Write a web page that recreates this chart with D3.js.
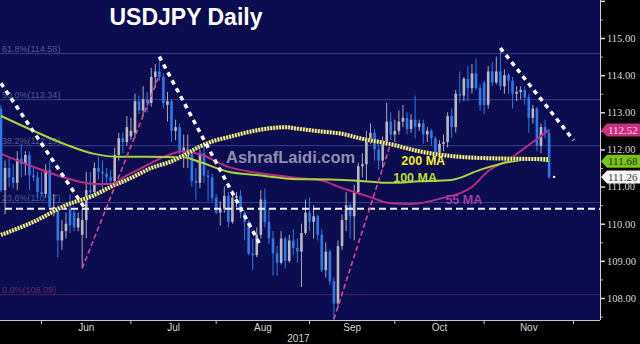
<!DOCTYPE html>
<html>
<head>
<meta charset="utf-8">
<script src="https://cdn.jsdelivr.net/npm/d3@7"></script>
<style>
html, body { margin: 0; padding: 0; background: #000; }
svg { display: block; }
</style>
</head>
<body>
<script>
// daily candles: [day, open, high, low, close]
var candles = [
	["2017-05-17", 113.10, 113.20, 110.85, 110.90],
	["2017-05-18", 110.90, 111.70, 110.25, 111.50],
	["2017-05-19", 111.50, 111.80, 111.00, 111.25],
	["2017-05-22", 111.25, 111.60, 110.95, 111.10],
	["2017-05-23", 111.10, 111.95, 110.90, 111.75],
	["2017-05-24", 111.75, 112.15, 111.25, 111.60],
	["2017-05-25", 111.60, 111.95, 111.30, 111.85],
	["2017-05-26", 111.85, 111.95, 110.90, 111.30],
	["2017-05-29", 111.30, 111.55, 111.15, 111.25],
	["2017-05-30", 111.25, 111.40, 110.70, 110.85],
	["2017-05-31", 110.85, 111.40, 110.75, 110.80],
	["2017-06-01", 110.80, 111.60, 110.70, 111.45],
	["2017-06-02", 111.45, 111.70, 110.40, 110.45],
	["2017-06-05", 110.45, 110.80, 110.20, 110.45],
	["2017-06-06", 110.45, 110.50, 109.10, 109.55],
	["2017-06-07", 109.55, 110.10, 109.30, 109.80],
	["2017-06-08", 109.80, 110.30, 109.60, 110.00],
	["2017-06-09", 110.40, 110.80, 109.75, 109.95],
	["2017-06-12", 110.30, 110.40, 109.80, 109.90],
	["2017-06-13", 109.90, 110.30, 109.80, 110.15],
	["2017-06-14", 109.70, 110.40, 108.80, 110.10],
	["2017-06-15", 110.10, 111.40, 109.60, 110.90],
	["2017-06-16", 110.90, 111.40, 110.65, 110.85],
	["2017-06-19", 110.85, 111.65, 110.70, 111.50],
	["2017-06-20", 111.50, 111.80, 111.20, 111.40],
	["2017-06-21", 111.40, 111.70, 110.95, 111.35],
	["2017-06-22", 111.35, 111.50, 111.05, 111.25],
	["2017-06-23", 111.25, 111.45, 110.95, 111.15],
	["2017-06-26", 111.15, 112.05, 111.10, 111.85],
	["2017-06-27", 111.85, 112.45, 111.70, 112.30],
	["2017-06-28", 112.30, 112.45, 111.90, 112.20],
	["2017-06-29", 112.20, 112.90, 112.10, 112.60],
	["2017-06-30", 112.35, 112.85, 112.25, 112.50],
	["2017-07-03", 112.45, 113.50, 112.30, 113.30],
	["2017-07-04", 113.30, 113.45, 112.95, 113.05],
	["2017-07-05", 113.05, 113.70, 112.90, 113.35],
	["2017-07-06", 113.35, 113.55, 113.00, 113.25],
	["2017-07-07", 113.25, 114.20, 113.15, 113.95],
	["2017-07-10", 113.95, 114.30, 113.65, 114.10],
	["2017-07-11", 114.10, 114.50, 113.85, 113.95],
	["2017-07-12", 113.95, 114.05, 113.10, 113.25],
	["2017-07-13", 113.20, 113.55, 112.75, 113.30],
	["2017-07-14", 113.30, 113.35, 112.20, 112.50],
	["2017-07-17", 112.50, 112.80, 112.25, 112.60],
	["2017-07-18", 112.60, 112.70, 111.70, 111.95],
	["2017-07-19", 111.95, 112.40, 111.50, 112.05],
	["2017-07-20", 111.80, 112.40, 111.50, 112.00],
	["2017-07-21", 111.90, 112.00, 111.00, 111.15],
	["2017-07-24", 111.15, 111.50, 110.65, 111.10],
	["2017-07-25", 111.10, 112.00, 110.95, 111.90],
	["2017-07-26", 111.90, 112.20, 111.10, 111.30],
	["2017-07-27", 111.30, 111.45, 110.60, 111.25],
	["2017-07-28", 111.25, 111.35, 110.60, 110.70],
	["2017-07-31", 110.70, 110.80, 110.25, 110.30],
	["2017-08-01", 110.30, 110.60, 109.95, 110.40],
	["2017-08-02", 110.40, 111.00, 110.30, 110.75],
	["2017-08-03", 110.75, 110.85, 109.90, 110.05],
	["2017-08-04", 110.05, 110.90, 110.00, 110.70],
	["2017-08-07", 110.70, 110.85, 110.45, 110.75],
	["2017-08-08", 110.75, 110.90, 110.15, 110.30],
	["2017-08-09", 110.30, 110.35, 109.55, 110.05],
	["2017-08-10", 110.05, 110.10, 109.15, 109.20],
	["2017-08-11", 109.20, 109.60, 108.75, 109.15],
	["2017-08-14", 109.15, 109.90, 109.10, 109.70],
	["2017-08-15", 109.70, 110.90, 109.60, 110.65],
	["2017-08-16", 110.65, 110.95, 109.90, 110.05],
	["2017-08-17", 110.05, 110.40, 109.45, 109.60],
	["2017-08-18", 109.60, 109.80, 108.60, 109.20],
	["2017-08-21", 109.20, 109.40, 108.60, 108.95],
	["2017-08-22", 108.95, 109.80, 108.90, 109.60],
	["2017-08-23", 109.60, 109.65, 108.80, 109.00],
	["2017-08-24", 109.00, 109.70, 108.95, 109.55],
	["2017-08-25", 109.55, 109.85, 109.15, 109.35],
	["2017-08-28", 109.35, 109.60, 108.95, 109.25],
	["2017-08-29", 109.25, 110.00, 108.30, 109.75],
	["2017-08-30", 109.75, 110.65, 109.70, 110.30],
	["2017-08-31", 110.30, 110.70, 109.80, 110.05],
	["2017-09-01", 110.05, 110.50, 109.60, 110.20],
	["2017-09-04", 110.20, 110.25, 109.55, 109.70],
	["2017-09-05", 109.70, 109.85, 108.70, 108.75],
	["2017-09-06", 108.75, 109.50, 108.55, 109.25],
	["2017-09-07", 109.25, 109.30, 108.35, 108.45],
	["2017-09-08", 108.45, 108.55, 107.32, 107.85],
	["2017-09-11", 107.85, 109.55, 107.75, 109.40],
	["2017-09-12", 109.40, 110.25, 109.30, 110.10],
	["2017-09-13", 110.10, 110.85, 109.80, 110.50],
	["2017-09-14", 110.50, 110.55, 109.60, 110.20],
	["2017-09-15", 110.20, 111.05, 109.55, 110.85],
	["2017-09-18", 110.85, 111.65, 110.80, 111.55],
	["2017-09-19", 111.55, 111.90, 111.25, 111.60],
	["2017-09-20", 111.60, 112.50, 111.15, 112.25],
	["2017-09-21", 112.25, 112.70, 112.15, 112.45],
	["2017-09-22", 112.45, 112.55, 111.70, 112.00],
	["2017-09-25", 112.00, 112.15, 111.45, 111.70],
	["2017-09-26", 111.70, 112.35, 111.50, 112.20],
	["2017-09-27", 112.20, 113.25, 112.10, 112.75],
	["2017-09-28", 112.75, 113.00, 112.25, 112.40],
	["2017-09-29", 112.40, 112.80, 112.20, 112.50],
	["2017-10-02", 112.50, 113.05, 112.40, 112.75],
	["2017-10-03", 112.75, 113.20, 112.60, 112.85],
	["2017-10-04", 112.85, 113.00, 112.40, 112.55],
	["2017-10-05", 112.55, 112.95, 112.45, 112.80],
	["2017-10-06", 112.80, 113.45, 112.30, 112.60],
	["2017-10-09", 112.60, 112.80, 112.50, 112.70],
	["2017-10-10", 112.70, 112.80, 112.15, 112.40],
	["2017-10-11", 112.40, 112.60, 112.20, 112.50],
	["2017-10-12", 112.50, 112.55, 112.10, 112.30],
	["2017-10-13", 112.30, 112.35, 111.65, 111.80],
	["2017-10-16", 111.80, 112.25, 111.70, 112.15],
	["2017-10-17", 112.15, 112.40, 111.95, 112.20],
	["2017-10-18", 112.20, 113.00, 112.05, 112.90],
	["2017-10-19", 112.90, 113.10, 112.30, 112.60],
	["2017-10-20", 112.60, 113.60, 112.45, 113.50],
	["2017-10-23", 113.50, 114.10, 113.25, 113.45],
	["2017-10-24", 113.45, 113.95, 113.30, 113.90],
	["2017-10-25", 113.90, 114.25, 113.30, 113.65],
	["2017-10-26", 113.65, 114.30, 113.50, 114.05],
	["2017-10-27", 114.05, 114.45, 113.60, 113.65],
	["2017-10-30", 113.65, 113.75, 113.05, 113.20],
	["2017-10-31", 113.80, 113.85, 112.95, 113.20],
	["2017-11-01", 113.20, 114.25, 113.10, 114.10],
	["2017-11-02", 114.10, 114.35, 113.70, 113.80],
	["2017-11-03", 113.80, 114.50, 113.75, 114.10],
	["2017-11-06", 114.10, 114.73, 113.60, 113.70],
	["2017-11-07", 113.70, 114.15, 113.50, 114.00],
	["2017-11-08", 114.00, 114.05, 113.50, 113.85],
	["2017-11-09", 113.85, 113.95, 113.10, 113.50],
	["2017-11-10", 113.50, 113.70, 113.30, 113.55],
	["2017-11-13", 113.55, 113.70, 113.35, 113.60],
	["2017-11-14", 113.60, 113.70, 113.20, 113.40],
	["2017-11-15", 113.40, 113.50, 112.45, 112.85],
	["2017-11-16", 112.85, 113.20, 112.70, 113.10],
	["2017-11-17", 113.10, 113.15, 111.95, 112.10],
	["2017-11-20", 112.10, 112.70, 111.90, 112.60],
	["2017-11-21", 112.60, 112.80, 112.30, 112.45],
	["2017-11-22", 112.45, 112.55, 111.20, 111.26]
];

// empty trading days kept on the right of the axis
var padDays = ["2017-11-23", "2017-11-24", "2017-11-27", "2017-11-28", "2017-11-29", "2017-11-30",
	"2017-12-01", "2017-12-04", "2017-12-05", "2017-12-06", "2017-12-07", "2017-12-08"];

// moving averages: [day, value]
var ma200 = [
	["2017-05-17", 109.70], ["2017-05-29", 110.05], ["2017-06-08", 110.50], ["2017-06-19", 110.77],
	["2017-06-23", 110.99], ["2017-06-30", 111.23], ["2017-07-07", 111.50], ["2017-07-14", 111.68],
	["2017-07-19", 111.84], ["2017-07-25", 112.08], ["2017-07-31", 112.25], ["2017-08-03", 112.33],
	["2017-08-10", 112.47], ["2017-08-18", 112.58], ["2017-08-23", 112.60], ["2017-08-28", 112.56],
	["2017-09-05", 112.48], ["2017-09-12", 112.42], ["2017-09-18", 112.31], ["2017-09-28", 112.14],
	["2017-10-09", 111.95], ["2017-10-19", 111.82], ["2017-10-30", 111.77], ["2017-11-22", 111.74]
];
var ma100 = [
	["2017-05-17", 112.90], ["2017-05-29", 112.50], ["2017-06-08", 112.13], ["2017-06-19", 111.88],
	["2017-06-27", 111.80], ["2017-07-06", 111.80], ["2017-07-19", 111.79], ["2017-07-25", 111.66],
	["2017-08-03", 111.40], ["2017-08-14", 111.31], ["2017-08-28", 111.20], ["2017-09-07", 111.19],
	["2017-09-18", 111.16], ["2017-09-28", 111.10], ["2017-10-09", 111.14], ["2017-10-19", 111.18],
	["2017-10-30", 111.45], ["2017-11-08", 111.66], ["2017-11-15", 111.73], ["2017-11-22", 111.68]
];
var ma55 = [
	["2017-05-17", 111.88], ["2017-05-29", 111.53], ["2017-06-08", 111.23], ["2017-06-19", 111.07],
	["2017-06-23", 111.07], ["2017-06-29", 111.30], ["2017-07-06", 111.58], ["2017-07-13", 111.84],
	["2017-07-19", 111.95], ["2017-07-25", 111.87], ["2017-08-03", 111.53], ["2017-08-14", 111.37],
	["2017-08-18", 111.31], ["2017-08-28", 111.23], ["2017-09-05", 111.16], ["2017-09-12", 110.96],
	["2017-09-20", 110.75], ["2017-09-28", 110.55], ["2017-10-05", 110.53], ["2017-10-16", 110.67],
	["2017-10-26", 110.99], ["2017-11-01", 111.42], ["2017-11-08", 111.72], ["2017-11-15", 112.12],
	["2017-11-22", 112.52]
];

var fibLevels = [["61.8%", 114.58], ["50.0%", 113.34], ["38.2%", 112.10], ["23.6%", 110.57], ["0.0%", 108.09]];
var supportLevel = 110.40;

// white dotted trend lines and pink dashed trend lines: [[day, price], [day, price]]
var dottedLines = [
	[["2017-05-17", 113.78], ["2017-06-15", 110.36]],
	[["2017-07-11", 114.50], ["2017-08-15", 109.40]],
	[["2017-11-06", 114.73], ["2017-11-30", 112.25]]
];
var pinkLines = [
	[["2017-06-14", 108.80], ["2017-07-11", 114.00]],
	[["2017-09-08", 107.43], ["2017-09-28", 112.17]]
];

var maLabels = [
	["200 MA", "2017-10-10", 111.58, "#f2ee22"],
	["100 MA", "2017-10-06", 111.13, "#bcdc34"],
	["55 MA", "2017-10-24", 110.54, "#9a3eaa"]
];

// price tags on the right axis: [value, fill, text colour]
var priceTags = [
	[112.52, "#c8307f", "#f6d6ea"],
	[111.68, "#7cc21e", "#17360a"],
	[111.26, "#f4f4f4", "#3a3a3a"]
];

var monthStarts = ["2017-06-01", "2017-07-03", "2017-08-01", "2017-09-01", "2017-10-02", "2017-11-01", "2017-12-01"];
var monthLabels = ["Jun", "Jul", "Aug", "Sep", "Oct", "Nov"];
var yearLabel = "2017";
var yTicks = [108, 109, 110, 111, 112, 113, 114, 115, 116];
var yMinorTicks = [107.5, 108.5, 109.5, 110.5, 111.5, 112.5, 113.5, 114.5, 115.5];

var width = 640, height = 344;
var plotW = 600, plotH = 320;

var svg = d3.select("body").append("svg")
	.attr("width", width)
	.attr("height", height)
	.style("background", "#000")

var allDays = candles.map(d => d[0]).concat(padDays);

var x = d3.scaleBand()
	.domain(allDays)
	.range([-1.03, 599.85])
var step = x.step();
var cx = d => x(d) + x.bandwidth()/2;

var y = d3.scaleLinear()
	.domain([108, 115])
	.range([298, 38])

svg.append("defs").append("clipPath")
	.attr("id", "plotClip")
	.append("rect")
	.attr("width", plotW)
	.attr("height", plotH)

svg.append("rect")
	.attr("width", plotW)
	.attr("height", plotH)
	.attr("fill", "#0c0c50")

var plot = svg.append("g")
	.attr("clip-path", "url(#plotClip)")

// fibonacci levels
var fib = plot.append("g").attr("class", "fib")
fib.selectAll("line")
	.data(fibLevels)
	.join("line")
		.attr("x1", 0)
		.attr("x2", plotW)
		.attr("y1", d => y(d[1]))
		.attr("y2", d => y(d[1]))
		.attr("stroke", d => d[0] == "0.0%" ? "#4a1f62" : "#343f86")
		.attr("stroke-width", 1)
fib.selectAll("text")
	.data(fibLevels)
	.join("text")
		.attr("x", 2)
		.attr("y", d => y(d[1]) - 2)
		.attr("font-family", "Liberation Sans, Arial, sans-serif")
		.attr("font-size", 9)
		.attr("fill", d => d[0] == "0.0%" ? "#5e2c62" : "#4c5a98")
		.text(d => d[0] + "(" + d[1].toFixed(2) + ")")

// candles
var candleG = plot.append("g").attr("class", "candles")
var up = d => d[4] >= d[1];
var bodyW = 2.6;

candleG.selectAll("line")
	.data(candles)
	.join("line")
		.attr("x1", d => cx(d[0]))
		.attr("x2", d => cx(d[0]))
		.attr("y1", d => y(d[2]))
		.attr("y2", d => y(d[3]))
		.attr("stroke", d => up(d) ? "#a9a9b4" : "#2c7be5")
		.attr("stroke-width", 1)

candleG.selectAll("rect")
	.data(candles)
	.join("rect")
		.attr("x", d => cx(d[0]) - bodyW/2)
		.attr("width", bodyW)
		.attr("y", d => y(Math.max(d[1], d[4])))
		.attr("height", d => Math.max(1, Math.abs(y(d[1]) - y(d[4]))))
		.attr("fill", d => up(d) ? "#b8b8c2" : "#2c7be5")

// support line
plot.append("line")
	.attr("x1", 5)
	.attr("x2", plotW)
	.attr("y1", y(supportLevel))
	.attr("y2", y(supportLevel))
	.attr("stroke", "#f2f2f2")
	.attr("stroke-width", 2)
	.attr("stroke-dasharray", "7,4")

// moving averages
var maLine = d3.line()
	.x(d => cx(d[0]))
	.y(d => y(d[1]))
	.curve(d3.curveMonotoneX)

plot.append("path")
	.datum(ma55)
	.attr("d", maLine)
	.attr("fill", "none")
	.attr("stroke", "#b82c86")
	.attr("stroke-width", 2)

plot.append("path")
	.datum(ma100)
	.attr("d", maLine)
	.attr("fill", "none")
	.attr("stroke", "#a6d63a")
	.attr("stroke-width", 2)

plot.append("path")
	.datum(ma200)
	.attr("d", maLine)
	.attr("fill", "none")
	.attr("stroke", "#55553a")
	.attr("stroke-width", 4)

plot.append("path")
	.datum(ma200)
	.attr("d", maLine)
	.attr("fill", "none")
	.attr("stroke", "#f8f4a6")
	.attr("stroke-width", 4)
	.attr("stroke-dasharray", "1.6,1.4")

// trend lines
var trendLine = d3.line()
	.x(d => cx(d[0]))
	.y(d => y(d[1]))

plot.selectAll("path.pink")
	.data(pinkLines)
	.join("path")
		.attr("class", "pink")
		.attr("d", trendLine)
		.attr("fill", "none")
		.attr("stroke", "#d84a8e")
		.attr("stroke-width", 1.6)
		.attr("stroke-dasharray", "5,3")

plot.selectAll("path.dotted")
	.data(dottedLines)
	.join("path")
		.attr("class", "dotted")
		.attr("d", trendLine)
		.attr("fill", "none")
		.attr("stroke", "#ffffff")
		.attr("stroke-width", 3.5)
		.attr("stroke-dasharray", "4.5,4.5")

// last price marker
var last = candles[candles.length - 1];
plot.append("circle")
	.attr("cx", cx(last[0]) + 5)
	.attr("cy", y(last[4]))
	.attr("r", 1.2)
	.attr("fill", "#fff")

// watermark
svg.append("text")
	.attr("x", 226)
	.attr("y", 163)
	.attr("font-family", "Liberation Sans, Arial, sans-serif")
	.attr("font-weight", "bold")
	.attr("font-size", 16.5)
	.attr("fill", "#b4b4c8")
	.attr("fill-opacity", 0.8)
	.text("AshrafLaidi.com")

// moving average labels
svg.selectAll("text.malabel")
	.data(maLabels)
	.join("text")
		.attr("class", "malabel")
		.attr("x", d => cx(d[1]))
		.attr("y", d => y(d[2]))
		.attr("text-anchor", "middle")
		.attr("font-family", "Liberation Sans, Arial, sans-serif")
		.attr("font-weight", "bold")
		.attr("font-size", 12.5)
		.attr("fill", d => d[3])
		.text(d => d[0])

// title
svg.append("text")
	.attr("x", 186)
	.attr("y", 25)
	.attr("text-anchor", "middle")
	.attr("font-family", "Liberation Sans, Arial, sans-serif")
	.attr("font-weight", "bold")
	.attr("font-size", 23)
	.attr("fill", "#ffffff")
	.text("USDJPY Daily")

// right axis
var yAxis = svg.append("g")
	.attr("transform", "translate(" + plotW + ",0)")
	.call(d3.axisRight(y)
		.tickValues(yTicks)
		.tickSize(5)
		.tickPadding(2)
		.tickFormat(d => d < 116 ? d3.format(".2f")(d) : ""))
yAxis.select(".domain").remove();
yAxis.selectAll("line").attr("stroke", "#d8d8d8").attr("stroke-width", 1.5);
yAxis.selectAll("text")
	.attr("fill", "#d8d8d8")
	.attr("font-family", "Liberation Serif, Times New Roman, serif")
	.attr("font-size", 10.5)

var yMinor = svg.append("g")
	.attr("transform", "translate(" + plotW + ",0)")
	.call(d3.axisRight(y).tickValues(yMinorTicks).tickSize(3).tickFormat(""))
yMinor.select(".domain").remove();
yMinor.selectAll("line").attr("stroke", "#b0b0b0");

svg.append("line")
	.attr("x1", plotW + 0.5)
	.attr("x2", plotW + 0.5)
	.attr("y1", 0)
	.attr("y2", plotH)
	.attr("stroke", "#d0d0d0")
	.attr("stroke-width", 1)

// bottom axis
svg.append("line")
	.attr("x1", 0)
	.attr("x2", plotW)
	.attr("y1", plotH + 0.5)
	.attr("y2", plotH + 0.5)
	.attr("stroke", "#c8c8c8")
	.attr("stroke-width", 1)

var monthTickX = monthStarts.map(d => cx(d) - step);

svg.selectAll("line.mtick")
	.data(monthTickX)
	.join("line")
		.attr("class", "mtick")
		.attr("x1", d => d)
		.attr("x2", d => d)
		.attr("y1", plotH)
		.attr("y2", plotH + 4)
		.attr("stroke", "#c8c8c8")

svg.selectAll("text.month")
	.data(monthLabels)
	.join("text")
		.attr("class", "month")
		.attr("x", (d, i) => (monthTickX[i] + monthTickX[i+1])/2)
		.attr("y", 331)
		.attr("text-anchor", "middle")
		.attr("font-family", "Liberation Sans, Arial, sans-serif")
		.attr("font-size", 10)
		.attr("fill", "#d4d4d4")
		.text(d => d)

svg.append("text")
	.attr("x", monthTickX[monthLabels.indexOf("Sep")])
	.attr("y", 342)
	.attr("text-anchor", "end")
	.attr("font-family", "Liberation Sans, Arial, sans-serif")
	.attr("font-size", 10)
	.attr("fill", "#d4d4d4")
	.text(yearLabel)

// price tags
var tagG = svg.selectAll("g.tag")
	.data(priceTags)
	.join("g")
		.attr("class", "tag")
		.attr("transform", d => "translate(" + plotW + "," + y(d[0]) + ")")

tagG.append("path")
	.attr("d", "M1,0 L7,-6.5 L40,-6.5 L40,6.5 L7,6.5 Z")
	.attr("fill", d => d[1])

tagG.append("text")
	.attr("x", 8)
	.attr("dy", "0.36em")
	.attr("font-family", "Liberation Serif, Times New Roman, serif")
	.attr("font-size", 11)
	.attr("fill", d => d[2])
	.text(d => d[0].toFixed(2))
</script>
</body>
</html>
